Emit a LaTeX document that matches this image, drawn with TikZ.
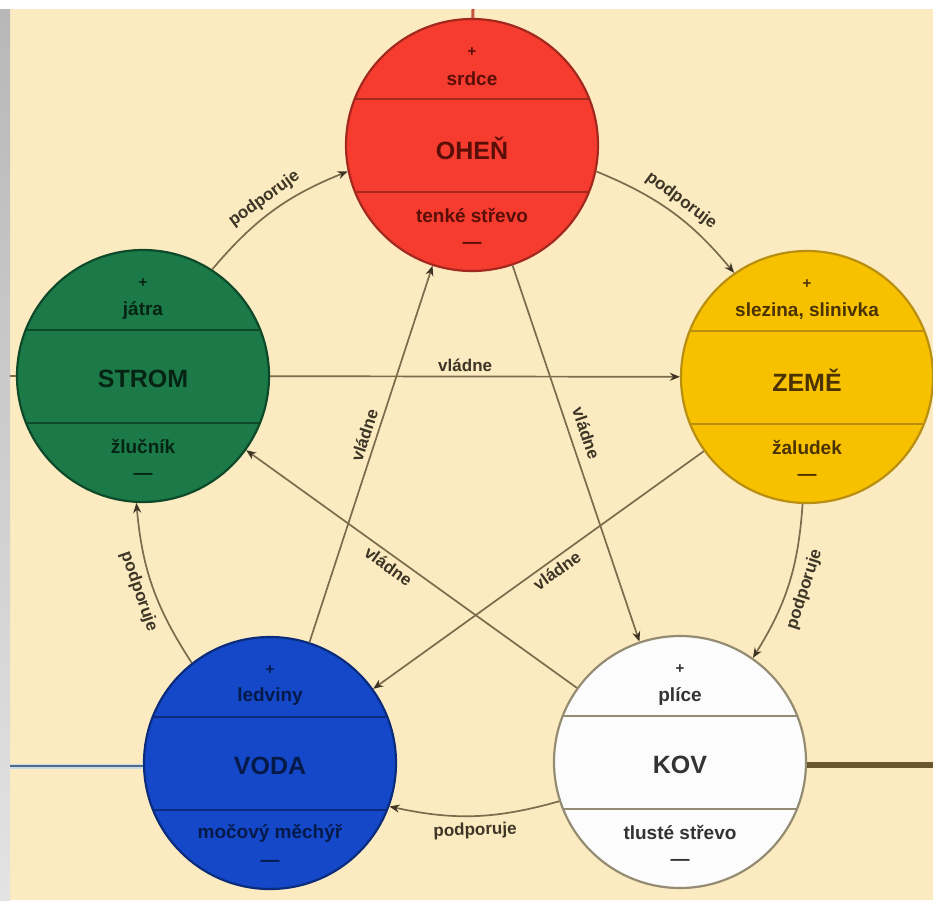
\documentclass[tikz,border=0pt]{standalone}
\usepackage{fontspec}
\setmainfont{Liberation Sans}
\usetikzlibrary{arrows.meta,calc}
\definecolor{bg}{HTML}{FCEBC1}
\definecolor{ohenF}{HTML}{F63B2F}\definecolor{ohenD}{HTML}{A3281E}\definecolor{ohenT}{HTML}{5A0E08}
\definecolor{stromF}{HTML}{1B7A48}\definecolor{stromD}{HTML}{0E4A2A}\definecolor{stromT}{HTML}{062414}
\definecolor{zemeF}{HTML}{F8C100}\definecolor{zemeD}{HTML}{B88F10}\definecolor{zemeT}{HTML}{4A3300}
\definecolor{vodaF}{HTML}{1448C8}\definecolor{vodaD}{HTML}{0B2C7C}\definecolor{vodaT}{HTML}{061A4A}
\definecolor{kovF}{HTML}{FCFCFC}\definecolor{kovD}{HTML}{948C72}\definecolor{kovT}{HTML}{333333}
\definecolor{conncol}{HTML}{7C6C4C}
\definecolor{tipcol}{HTML}{3E3424}
\definecolor{labcol}{HTML}{3D3525}
\definecolor{redline}{HTML}{C4553F}
\definecolor{blueline}{HTML}{506A88}
\definecolor{bluehalo}{HTML}{C8DCE6}
\definecolor{brownline}{HTML}{6B5632}
\tikzset{
  elem/.style={circle, minimum size=252pt, inner sep=0pt, line width=2.2pt},
  plustxt/.style={font=\fontsize{15}{18}\selectfont\bfseries, inner sep=0pt},
  organ/.style={font=\fontsize{19}{22}\selectfont\bfseries, inner sep=0pt},
  elname/.style={font=\fontsize{25}{30}\selectfont\bfseries, inner sep=0pt},
  divider/.style={line width=2.6pt},
  conn/.style={draw=conncol, line width=1.7pt, -{Stealth[length=10pt,width=8pt,color=tipcol]}},
  lab/.style={font=\fontsize{17}{20}\selectfont\bfseries, text=labcol, inner sep=4pt},
  arclab/.style={lab, inner sep=6pt},
}
\begin{document}
\begin{tikzpicture}[x=1pt,y=-1pt]
\useasboundingbox (0,0) rectangle (933,900);
\fill[bg] (0,0) rectangle (933,900);
\fill[white] (0,0) rectangle (933,9);
\shade[top color=black!28, bottom color=black!11] (0,9) rectangle (10,900);

\foreach \n/\px/\py/\a/\b/\c in {ohen/472/145/srdce/OHEŇ/tenké střevo, strom/143/376/játra/STROM/žlučník, zeme/807/377/{slezina, slinivka}/ZEMĚ/žaludek, voda/270/763/ledviny/VODA/močový měchýř, kov/680/762/plíce/KOV/tlusté střevo}{
  \node[elem, fill=\n F, draw=\n D] (\n) at (\px,\py) {};
  \draw[divider, \n D] (\px-118,\py-46) -- (\px+118,\py-46);
  \draw[divider, \n D] (\px-117,\py+47) -- (\px+117,\py+47);
  \node[plustxt, text=\n T] (\n-plus) at (\px,\py-93) {+};
  \node[organ, text=\n T] (\n-up) at (\px,\py-66) {\a};
  \node[elname, text=\n T] (\n-name) at (\px,\py+3) {\b};
  \node[organ, text=\n T] (\n-down) at (\px,\py+70) {\c};
  \node[organ, text=\n T] (\n-minus) at (\px,\py+100) {—};
}

% outer stubs
\coordinate (topend) at (473,9);
\coordinate (leftend) at (10,376);
\coordinate (blueend) at (10,766);
\coordinate (brownend) at (933,765);
\draw[line width=3pt, redline] (topend) -- (ohen);
\draw[line width=1.7pt, conncol] (leftend) -- (strom);
\draw[line width=5pt, bluehalo] (blueend) -- (blueend -| voda.west);
\draw[line width=2.6pt, blueline] (blueend) -- (blueend -| voda.west);
\draw[line width=6pt, brownline] (brownend) -- (brownend -| kov.east);

% vladne (pentagram)
\draw[conn] (strom) -- (zeme) node[lab, pos=0.476, above] (l1) {vládne};
\draw[conn] (zeme) -- (voda) node[lab, pos=0.464, sloped, below] (l2) {vládne};
\draw[conn] (kov) -- (strom) node[lab, pos=0.55, sloped, below] (l3) {vládne};
\draw[conn] (voda) -- (ohen) node[lab, pos=0.54, sloped, above, inner sep=5pt] (l4) {vládne};
\draw[conn] (ohen) -- (kov) node[lab, pos=0.46, sloped, above, inner sep=9pt] (l5) {vládne};

% podporuje (cycle)
\draw[conn] (strom.57) to[bend left=14] node[arclab, sloped, above] (p1) {podporuje} (ohen.192);
\draw[conn] (ohen.-12) to[bend left=14] node[arclab, sloped, above] (p2) {podporuje} (zeme.125);
\draw[conn] (zeme.-92) to[bend left=14] node[arclab, sloped, below, inner sep=8pt] (p3) {podporuje} (kov.55);
\draw[conn] (kov.-162) to[bend left=14] node[arclab, sloped, below] (p4) {podporuje} (voda.-20);
\draw[conn] (voda.128) to[bend left=14] node[arclab, sloped, below] (p5) {podporuje} (strom.-93);
\end{tikzpicture}
\end{document}
